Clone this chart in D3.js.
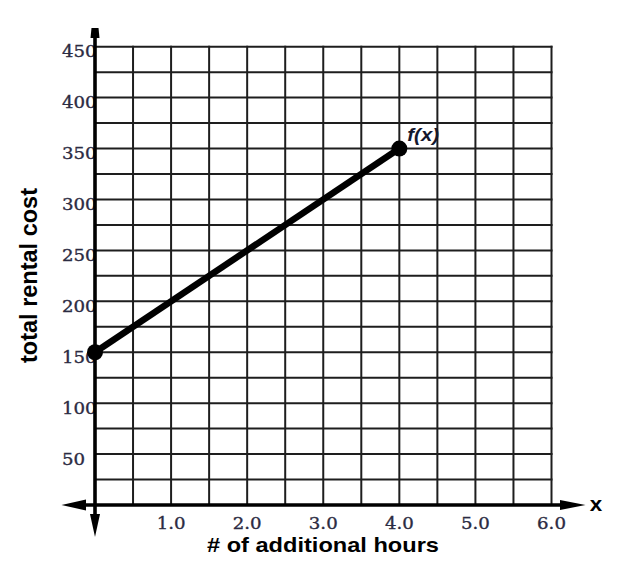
<!DOCTYPE html>
<html>
<head>
<meta charset="utf-8">
<script src="https://cdn.jsdelivr.net/npm/d3@7"></script>
<style>
  html, body { margin: 0; padding: 0; background: #fff; }
  svg { display: block; }
</style>
</head>
<body>
<svg id="chart" width="627" height="564"></svg>
<script>
// ---- data ----
const hours = [0, 4];            // # of additional hours
const cost = [150, 350];         // total rental cost
const xTickValues = [1, 2, 3, 4, 5, 6];
const xTickLabels = ["1.0", "2.0", "3.0", "4.0", "5.0", "6.0"];
const yTickValues = [50, 100, 150, 200, 250, 300, 350, 400, 450];
const yTickLabels = ["50", "100", "150", "200", "250", "300", "350", "400", "450"];
const xTitle = "# of additional hours";
const yTitle = "total rental cost";
const seriesLabel = "f(x)";
const axisName = "x";

// ---- layout ----
const svg = d3.select("#chart");
const x = d3.scaleLinear().domain([0, 6]).range([95, 551.5]);
const y = d3.scaleLinear().domain([0, 450]).range([505, 46.7]);
const stretch = 1.08;       // horizontal text stretch seen in the reference
const labelColor = "#2b2b42";

function tickText(g, tx, ty, anchor, label) {
  g.append("text")
    .attr("transform", `translate(${tx},${ty}) scale(${stretch},1)`)
    .attr("text-anchor", anchor)
    .attr("font-family", "DejaVu Serif")
    .attr("font-size", 16.8)
    .attr("fill", labelColor)
    .attr("stroke", labelColor).attr("stroke-width", 0.35)
    .text(label);
}

// tick labels (drawn first so the axis covers their right edge)
const yLab = svg.append("g");
yTickValues.forEach((v, i) => tickText(yLab, 62, y(v) + 10.5, "start", yTickLabels[i]));
const xLab = svg.append("g");
xTickValues.forEach((v, i) => tickText(xLab, x(v), 528.5, "middle", xTickLabels[i]));

// grid
const grid = svg.append("g").attr("stroke", "#1e1e1e").attr("stroke-width", 2);
d3.range(0.5, 6.01, 0.5).forEach(v => {
  grid.append("line").attr("x1", x(v)).attr("x2", x(v)).attr("y1", y(450) - 1).attr("y2", y(0));
});
d3.range(25, 450.1, 25).forEach(v => {
  grid.append("line").attr("x1", x(0)).attr("x2", x(6) + 1).attr("y1", y(v)).attr("y2", y(v));
});

// axes with arrows
const ax = svg.append("g");
ax.append("line").attr("x1", 80).attr("x2", 566).attr("y1", y(0)).attr("y2", y(0))
  .attr("stroke", "#000").attr("stroke-width", 3.6);
ax.append("line").attr("x1", x(0)).attr("x2", x(0)).attr("y1", 34).attr("y2", 520)
  .attr("stroke", "#000").attr("stroke-width", 3.6);
const y0 = y(0), x0 = x(0);
ax.append("path").attr("d", `M61.5,${y0} L86,${y0 - 5.5} L86,${y0 + 5.5} Z`).attr("fill", "#000");
ax.append("path").attr("d", `M585.5,${y0} L560,${y0 - 5} L560,${y0 + 5} Z`).attr("fill", "#000");
ax.append("path").attr("d", `M${x0},537 L${x0 - 5},514 L${x0 + 5},514 Z`).attr("fill", "#000");
ax.append("path").attr("d", `M${x0 - 3.5},28 L${x0 + 3.5},28 L${x0 + 4.5},38 L${x0 - 4.5},38 Z`).attr("fill", "#000");

// function line and endpoints
const pts = hours.map((h, i) => [h, cost[i]]);
svg.append("path")
  .datum(pts)
  .attr("d", d3.line().x(d => x(d[0])).y(d => y(d[1])))
  .attr("fill", "none").attr("stroke", "#000").attr("stroke-width", 6.5);
svg.selectAll("circle.pt").data(pts).enter().append("circle")
  .attr("class", "pt")
  .attr("cx", d => x(d[0])).attr("cy", d => y(d[1])).attr("r", 8)
  .attr("fill", "#000");

// series label
svg.append("text")
  .attr("transform", `translate(${x(hours[1]) + 8},${y(cost[1]) - 7.5}) scale(1.1,1)`)
  .attr("font-family", "Liberation Sans, Arial, sans-serif")
  .attr("font-weight", "bold").attr("font-style", "italic")
  .attr("font-size", 18.5).attr("fill", "#14182e")
  .text(seriesLabel);

// axis name
svg.append("text")
  .attr("transform", `translate(596,511) scale(1.12,1)`)
  .attr("text-anchor", "middle")
  .attr("font-family", "Liberation Sans, Arial, sans-serif")
  .attr("font-weight", "bold").attr("font-size", 20).attr("fill", "#000")
  .text(axisName);

// titles
svg.append("text")
  .attr("x", 323).attr("y", 552)
  .attr("text-anchor", "middle")
  .attr("font-family", "Liberation Sans, Arial, sans-serif")
  .attr("font-weight", "bold").attr("font-size", 21).attr("fill", "#000")
  .attr("textLength", 232).attr("lengthAdjust", "spacingAndGlyphs")
  .text(xTitle);
svg.append("text")
  .attr("transform", "translate(37,275.5) rotate(-90)")
  .attr("text-anchor", "middle")
  .attr("font-family", "Liberation Sans, Arial, sans-serif")
  .attr("font-weight", "bold").attr("font-size", 24).attr("fill", "#000")
  .attr("textLength", 175).attr("lengthAdjust", "spacingAndGlyphs")
  .text(yTitle);
</script>
</body>
</html>
